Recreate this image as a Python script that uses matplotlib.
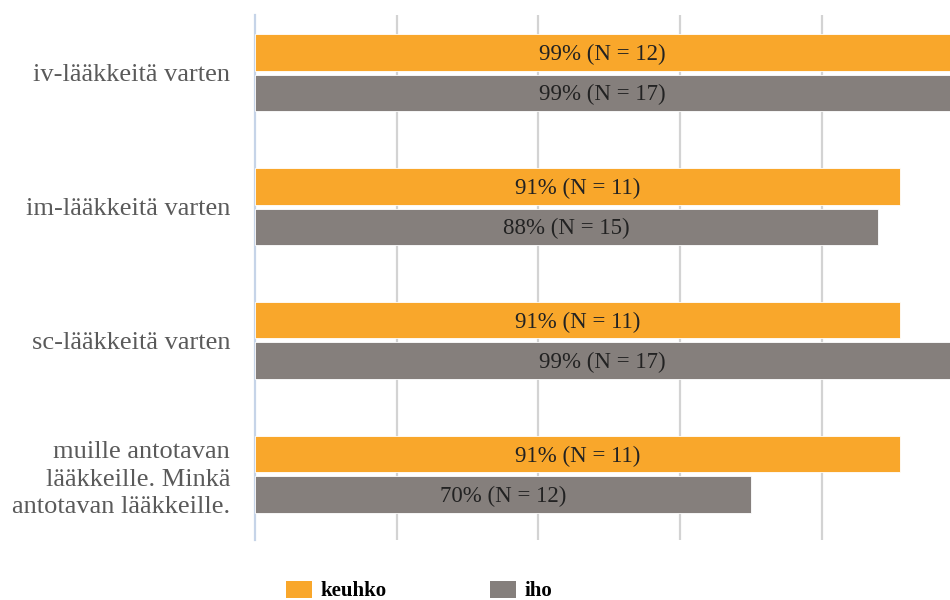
import numpy as np
import matplotlib
matplotlib.use("Agg")
import matplotlib.pyplot as plt
from matplotlib.patches import Patch

# -- data
categories = ["iv-lääkkeitä varten",
              "im-lääkkeitä varten",
              "sc-lääkkeitä varten",
              "muille antotavan\nlääkkeille. Minkä\nantotavan lääkkeille."]
keuhko_pct = [99, 91, 91, 91]
keuhko_n   = [12, 11, 11, 11]
iho_pct    = [99, 88, 99, 70]
iho_n      = [17, 15, 17, 12]
series     = ["keuhko", "iho"]

c_keuhko = "#f9a72b"
c_iho    = "#857f7c"

plt.rcParams["font.family"] = ["Liberation Serif", "DejaVu Serif"]

fig = plt.figure(figsize=(9.5, 6), dpi=100)
ax  = fig.add_axes([255/950, 60/600, 1 - 255/950, 525/600])

y  = np.arange(len(categories))
h  = 0.27
dy = 0.15

b1 = ax.barh(y - dy, keuhko_pct, height=h, color=c_keuhko,
             edgecolor="white", linewidth=0.6, zorder=3)
b2 = ax.barh(y + dy, iho_pct, height=h, color=c_iho,
             edgecolor="white", linewidth=0.6, zorder=3)

xmax = 98.1
for bars, pct, n in [(b1, keuhko_pct, keuhko_n), (b2, iho_pct, iho_n)]:
    for bar, p, k in zip(bars, pct, n):
        xc = min(p, xmax) / 2.0
        ax.text(xc, bar.get_y() + bar.get_height()/2 + 0.015,
                "%d%% (N = %d)" % (p, k),
                ha="center", va="center", fontsize=16.5, color="#222222", zorder=4)

ax.set_xlim(0, xmax)
ax.set_ylim(3 + 0.49, -0.43)
ax.set_xticks(np.arange(20, 100, 20))
ax.xaxis.grid(True, color="#d3d3d3", linewidth=1.6, zorder=0)
ax.tick_params(axis="x", length=0, labelbottom=False)
ax.tick_params(axis="y", length=0, pad=18)
ax.set_yticks(y)
ax.set_yticklabels(categories, fontsize=19, color="#5a5a5a", linespacing=1.32)

for side in ["top", "right", "bottom"]:
    ax.spines[side].set_visible(False)
ax.spines["left"].set_color("#c6d4e8")
ax.spines["left"].set_linewidth(1.6)

handles = [Patch(facecolor=c_keuhko), Patch(facecolor=c_iho)]
fig.legend(handles, series, loc="upper left", bbox_to_anchor=(269/950, 1 - 564/600),
           ncol=2, frameon=False, handlelength=1.25, handleheight=0.9,
           columnspacing=5.0, handletextpad=0.4, borderpad=0.3,
           prop={"family": ["Liberation Serif"], "weight": "bold", "size": 15})

fig.savefig("out.png", dpi=100)
